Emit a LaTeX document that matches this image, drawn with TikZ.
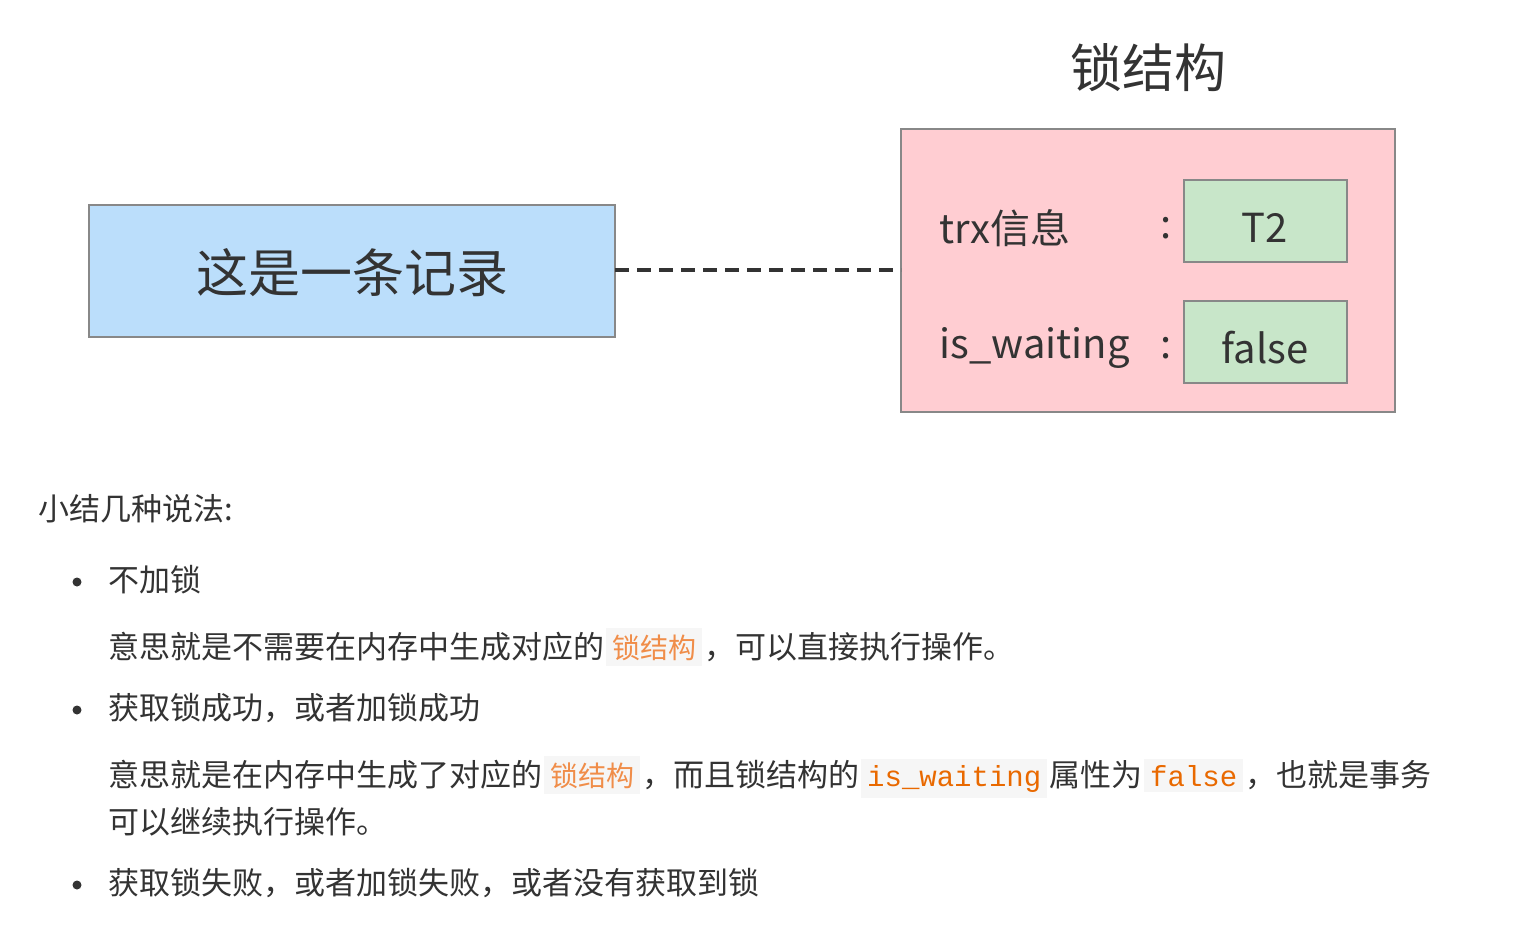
\documentclass[tikz,border=0pt]{standalone}
\usepackage{fontspec}
\setmainfont{Noto Sans CJK SC}
\newfontfamily\codemono{Liberation Mono}
\definecolor{txt}{HTML}{333333}
\definecolor{bluefill}{HTML}{BBDEFB}
\definecolor{pinkfill}{HTML}{FFCDD2}
\definecolor{greenfill}{HTML}{C8E6C9}
\definecolor{boxline}{HTML}{888888}
\definecolor{codebg}{HTML}{F6F6F6}
\definecolor{codefg}{HTML}{E96900}
\definecolor{codefgl}{HTML}{F08D49}
\newcommand{\cspan}[1]{\hspace{2pt}{\setlength\fboxsep{6pt}\colorbox{codebg}{\textcolor{codefgl}{\fontsize{28}{34}\selectfont #1}}}\hspace{2pt}}
\newcommand{\mspan}[1]{\hspace{2pt}{\setlength\fboxsep{6pt}\colorbox{codebg}{\textcolor{codefg}{\codemono\fontsize{29}{34}\selectfont #1}}}\hspace{2pt}}
\tikzset{
  box/.style={draw=boxline, line width=1.5pt},
  big/.style={font=\fontsize{52}{60}\selectfont, text=txt},
  mid/.style={font=\fontsize{40}{48}\selectfont, text=txt},
  body/.style={font=\fontsize{31}{38}\selectfont, text=txt, anchor=base west, inner sep=0pt},
  bullet/.style={circle, fill=txt, inner sep=0pt, minimum size=9pt}
}
\begin{document}
\begin{tikzpicture}[x=1pt,y=-1pt]
\useasboundingbox[fill=white] (0,0) rectangle (1528,928);
\node[big] (title) at (1148,68) {锁结构};
\draw[box, fill=bluefill] (89,205) rectangle (615,337);
\node[big] (rec) at (352,273) {这是一条记录};
\draw[box, fill=pinkfill] (901,129) rectangle (1395,412);
\coordinate (l) at (615,270);
\coordinate (r) at (901,270);
\draw[txt, line width=3.5pt, dash pattern=on 14pt off 8pt] (l) -- (r);
\node[mid, anchor=west] (trx) at (936,228) {trx信息};
\node[mid] (c1) at (1166,228) {:};
\draw[box, fill=greenfill] (1184,180) rectangle (1347,262);
\node[mid] (t2) at (1265,228) {T2};
\node[mid, anchor=west] (isw) at (936,348) {is\_waiting};
\node[mid] (c2) at (1166,348) {:};
\draw[box, fill=greenfill] (1184,301) rectangle (1347,383);
\node[mid] (f) at (1265,348) {false};
\node[body] (sum) at (38,520) {小结几种说法:};
\node[bullet] (b1) at (77,582) {};
\node[body] (i1) at (108,591) {不加锁};
\node[body] (d1) at (108,658) {意思就是不需要在内存中生成对应的\cspan{锁结构}，可以直接执行操作。};
\node[bullet] (b2) at (77,710) {};
\node[body] (i2) at (108,719) {获取锁成功，或者加锁成功};
\node[body] (d2) at (108,786) {意思就是在内存中生成了对应的\cspan{锁结构}，而且锁结构的\mspan{is\_waiting}属性为\mspan{false}，也就是事务};
\node[body] (d2b) at (108,833) {可以继续执行操作。};
\node[bullet] (b3) at (77,885) {};
\node[body] (i3) at (108,894) {获取锁失败，或者加锁失败，或者没有获取到锁};
\end{tikzpicture}
\end{document}
